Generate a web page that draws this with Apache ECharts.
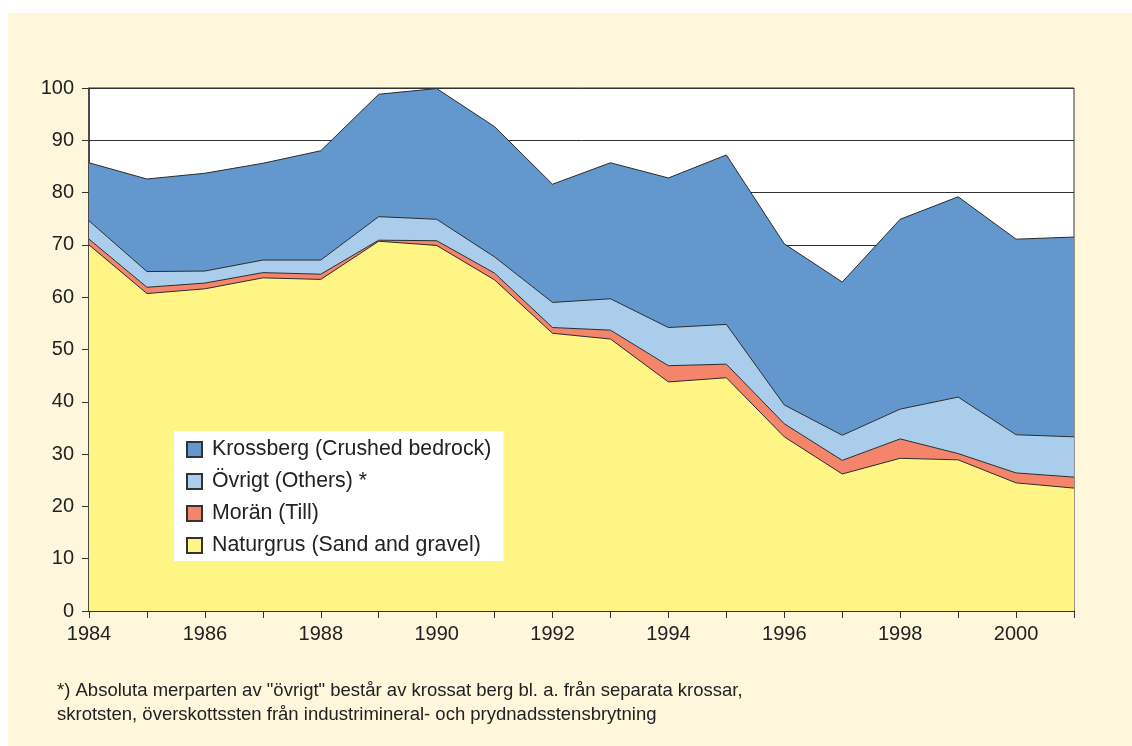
<!DOCTYPE html>
<html>
<head>
  <meta charset="UTF-8">
  <title>Ballastproduktion 1984-2001</title>
  <script src="https://cdn.jsdelivr.net/npm/echarts@6/dist/echarts.min.js"></script>
  <style>
    html, body { margin: 0; padding: 0; background: #ffffff; }
    #bg { position: absolute; left: 8px; top: 13px; right: 0; bottom: 0; background: #fef7dc; }
    #chart { position: absolute; left: 0; top: 0; width: 1132px; height: 746px; }
  </style>
</head>
<body>
  <div id="bg"></div>
  <div id="chart"></div>
  <script>
    // år
    const years = ['1984', '1985', '1986', '1987', '1988', '1989', '1990', '1991', '1992',
      '1993', '1994', '1995', '1996', '1997', '1998', '1999', '2000', '2001'];

    // serier
    const naturgrus = [70.0, 60.7, 61.6, 63.7, 63.4, 70.7, 69.9, 63.3, 53.1, 52.0, 43.8, 44.6, 33.3, 26.2, 29.2, 28.9, 24.5, 23.5];
    const moran     = [1.1, 1.2, 1.1, 1.0, 1.0, 0.2, 0.9, 1.3, 1.1, 1.7, 3.1, 2.6, 2.5, 2.6, 3.7, 1.2, 1.9, 2.1];
    const ovrigt    = [3.5, 3.0, 2.3, 2.4, 2.7, 4.5, 4.1, 3.1, 4.8, 6.0, 7.3, 7.6, 3.6, 4.8, 5.7, 10.8, 7.3, 7.7];
    const krossberg = [11.1, 17.7, 18.7, 18.5, 20.9, 23.4, 25.0, 24.9, 22.6, 26.0, 28.6, 32.4, 30.8, 29.3, 36.3, 38.3, 37.4, 38.2];

    const names = ['Naturgrus (Sand and gravel)', 'Morän (Till)', 'Övrigt (Others) *', 'Krossberg (Crushed bedrock)'];
    const colors = ['#fff585', '#f4846a', '#abcdec', '#6398cf'];
    const footnote = [
      '*) Absoluta merparten av "övrigt" består av krossat berg bl. a. från separata krossar,',
      'skrotsten, överskottssten från industrimineral- och prydnadsstensbrytning'
    ];

    const font = 'Liberation Sans, Arial, sans-serif';

    const chart = echarts.init(document.getElementById('chart'));

    function areaSeries(name, data, color) {
      return {
        name: name,
        type: 'line',
        stack: 'total',
        data: data,
        symbol: 'none',
        lineStyle: { color: '#2b2b2b', width: 1 },
        areaStyle: { color: color, opacity: 1 },
        itemStyle: { color: color, borderColor: '#333', borderWidth: 1.2 },
        emphasis: { disabled: true }
      };
    }

    const option = {
      animation: false,
      backgroundColor: 'transparent',
      grid: {
        left: 89, right: 58, top: 88, bottom: 135,
        show: true,
        backgroundColor: '#ffffff',
        borderColor: '#333333',
        borderWidth: 1
      },
      legend: {
        data: [names[3], names[2], names[1], names[0]],
        orient: 'vertical',
        left: 174,
        top: 431,
        backgroundColor: '#ffffff',
        padding: [8, 12, 5, 12],
        itemGap: 11,
        itemWidth: 15,
        itemHeight: 15,
        icon: 'rect',
        textStyle: { fontFamily: font, fontSize: 21.3, color: '#222222', padding: [0, 0, 0, 5] }
      },
      xAxis: {
        type: 'category',
        data: years,
        boundaryGap: false,
        axisLine: { lineStyle: { color: '#333333', width: 1.5 } },
        axisTick: { show: true, interval: 0, length: 7, inside: false, lineStyle: { color: '#333333' } },
        axisLabel: { interval: 1, fontFamily: font, fontSize: 20, color: '#222222', margin: 13 },
        splitLine: { show: false }
      },
      yAxis: {
        type: 'value',
        min: 0,
        max: 100,
        interval: 10,
        axisLine: { show: true, lineStyle: { color: '#333333', width: 1.5 } },
        axisTick: { show: true, length: 7, lineStyle: { color: '#333333' } },
        axisLabel: { fontFamily: font, fontSize: 20, color: '#222222', margin: 15 },
        splitLine: { show: true, lineStyle: { color: '#333333', width: 1 } }
      },
      series: [
        areaSeries(names[0], naturgrus, colors[0]),
        areaSeries(names[1], moran, colors[1]),
        areaSeries(names[2], ovrigt, colors[2]),
        areaSeries(names[3], krossberg, colors[3])
      ],
      graphic: [
        {
          type: 'text', left: 57, top: 681,
          style: { text: footnote[0], fontFamily: font, fontSize: 18.5, fill: '#222222' }
        },
        {
          type: 'text', left: 57, top: 705,
          style: { text: footnote[1], fontFamily: font, fontSize: 18.5, fill: '#222222' }
        }
      ]
    };

    chart.setOption(option);
  </script>
</body>
</html>
